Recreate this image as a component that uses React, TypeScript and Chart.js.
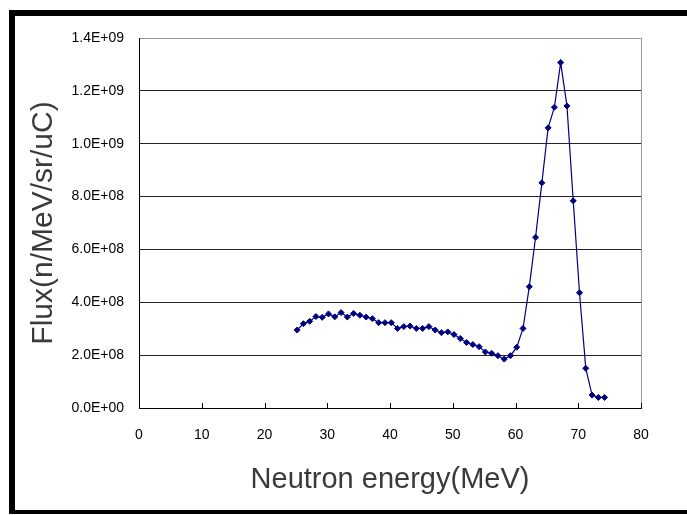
import React, { useEffect, useRef } from "react";
import { Chart, registerables } from "chart.js";

Chart.register(...registerables);

const energies = [
  25.2, 26.2, 27.2, 28.2, 29.2, 30.2, 31.2, 32.2, 33.2, 34.2,
  35.2, 36.2, 37.2, 38.2, 39.2, 40.2, 41.2, 42.2, 43.2, 44.2,
  45.2, 46.2, 47.2, 48.2, 49.2, 50.2, 51.2, 52.2, 53.2, 54.2,
  55.2, 56.2, 57.2, 58.2, 59.2, 60.2, 61.2, 62.2, 63.2, 64.2,
  65.2, 66.2, 67.2, 68.2, 69.2, 70.2, 71.2, 72.2, 73.2, 74.2,
];

const flux = [
  2.95e8, 3.19e8, 3.28e8, 3.46e8, 3.43e8, 3.56e8, 3.45e8, 3.61e8, 3.44e8, 3.58e8,
  3.51e8, 3.44e8, 3.38e8, 3.23e8, 3.23e8, 3.23e8, 3.01e8, 3.08e8, 3.1e8, 3.01e8,
  3.01e8, 3.08e8, 2.95e8, 2.85e8, 2.88e8, 2.78e8, 2.63e8, 2.48e8, 2.4e8, 2.32e8,
  2.12e8, 2.07e8, 1.98e8, 1.85e8, 1.98e8, 2.3e8, 3.01e8, 4.59e8, 6.46e8, 8.52e8,
  10.6e8, 11.38e8, 13.07e8, 11.43e8, 7.84e8, 4.36e8, 1.5e8, 0.49e8, 0.4e8, 0.4e8,
];

const yTickLabels = [
  "0.0E+00", "2.0E+08", "4.0E+08", "6.0E+08", "8.0E+08", "1.0E+09", "1.2E+09", "1.4E+09",
];
const xTickLabels = ["0", "10", "20", "30", "40", "50", "60", "70", "80"];

const xTitle = "Neutron energy(MeV)";
const yTitle = "Flux(n/MeV/sr/uC)";

const FONT = '"Liberation Sans", Arial, sans-serif';

const innerTicks = {
  id: "innerTicks",
  afterDraw(chart: any) {
    const xs = chart.scales.x;
    const ctx = chart.ctx;
    const bottom = chart.chartArea.bottom;
    ctx.save();
    ctx.strokeStyle = "#000";
    ctx.lineWidth = 1;
    xs.ticks.forEach((t: any) => {
      const px = Math.round(xs.getPixelForValue(t.value)) + 0.5;
      ctx.beginPath();
      ctx.moveTo(px, bottom);
      ctx.lineTo(px, bottom - 5);
      ctx.stroke();
    });
    ctx.restore();
  },
};

export default function App() {
  const ref = useRef<HTMLCanvasElement | null>(null);

  useEffect(() => {
    if (!ref.current) return;
    const chart = new Chart(ref.current, {
      type: "line",
      data: {
        datasets: [
          {
            data: energies.map((e, i) => ({ x: e, y: flux[i] })),
            borderColor: "#000080",
            backgroundColor: "#000080",
            borderWidth: 1.2,
            pointStyle: "rectRot",
            pointRadius: 3,
            pointBorderWidth: 1,
            tension: 0,
          },
        ],
      },
      options: {
        responsive: false,
        animation: false,
        devicePixelRatio: 1,
        layout: { padding: { left: 15, top: 38, right: 46, bottom: 10 } },
        plugins: {
          legend: { display: false },
          tooltip: { enabled: false },
        },
        scales: {
          x: {
            type: "linear",
            min: 0,
            max: 80,
            ticks: {
              stepSize: 10,
              color: "#000",
              padding: 19,
              font: { family: FONT, size: 14 },
              callback: (_v: any, i: number) => xTickLabels[i],
            },
            grid: {
              drawTicks: false,
              color: (c: any) => (c.tick && c.tick.value === 80 ? "#999" : "rgba(0,0,0,0)"),
            },
            border: { color: "#000", width: 1 },
            title: {
              display: true,
              text: xTitle,
              color: "#3a3a3a",
              font: { family: FONT, size: 29 },
              padding: { top: 0, bottom: 8 },
            },
            afterFit: (s: any) => {
              s.height = 97;
            },
          },
          y: {
            min: 0,
            max: 1.4e9,
            ticks: {
              stepSize: 2e8,
              color: "#000",
              padding: 15,
              font: { family: FONT, size: 14 },
              callback: (_v: any, i: number) => yTickLabels[i],
            },
            grid: {
              drawTicks: false,
              color: (c: any) => (c.tick && c.tick.value >= 1.4e9 ? "#999" : "#222"),
            },
            border: { color: "#000", width: 1 },
            title: {
              display: true,
              text: yTitle,
              color: "#3a3a3a",
              font: { family: FONT, size: 30 },
              padding: { top: 11, bottom: 0 },
            },
            afterFit: (s: any) => {
              s.width = 124;
            },
          },
        },
      },
      plugins: [innerTicks],
    });
    return () => chart.destroy();
  }, []);

  return (
    <div
      style={{
        position: "absolute",
        left: 0,
        top: 0,
        width: 687,
        height: 515,
        overflow: "hidden",
        background: "#fff",
      }}
    >
      <canvas
        ref={ref}
        width={687}
        height={515}
        style={{ position: "absolute", left: 0, top: 0, width: 687, height: 515 }}
      />
      <div
        style={{
          position: "absolute",
          left: 9,
          top: 10,
          width: 720,
          height: 504,
          boxSizing: "border-box",
          borderLeft: "6px solid #000",
          borderTop: "6px solid #000",
          borderBottom: "4px solid #000",
          pointerEvents: "none",
        }}
      />
    </div>
  );
}
